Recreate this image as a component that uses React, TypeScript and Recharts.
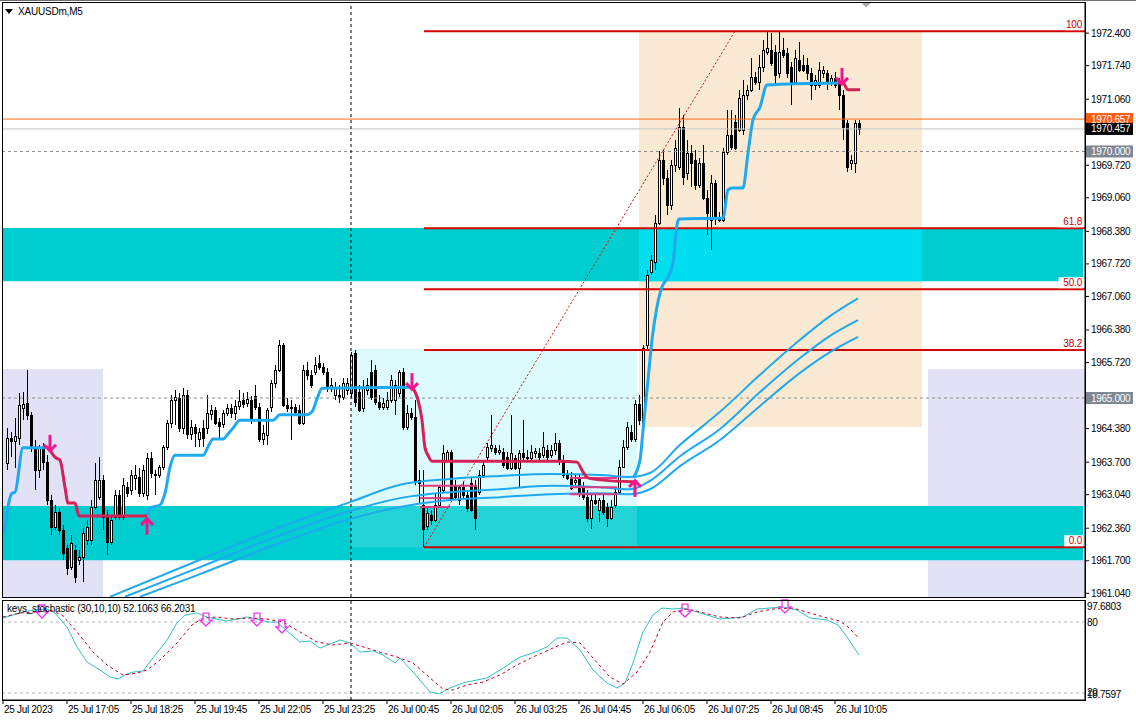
import React from 'react';
import {
  ComposedChart,
  Bar,
  Line,
  XAxis,
  YAxis,
  ReferenceArea,
  ReferenceLine,
  ReferenceDot,
} from 'recharts';

const FONT = "Tahoma, 'Liberation Sans', Arial, sans-serif";

const symbolTitle = 'XAUUSDm,M5';
const stochTitle = 'keys_stochastic (30,10,10) 52.1063 66.2031';

const timeLabels = [
  '25 Jul 2023', '25 Jul 17:05', '25 Jul 18:25', '25 Jul 19:45', '25 Jul 22:05',
  '25 Jul 23:25', '26 Jul 00:45', '26 Jul 02:05', '26 Jul 03:25', '26 Jul 04:45',
  '26 Jul 06:05', '26 Jul 07:25', '26 Jul 08:45', '26 Jul 10:05',
];
const timeLabelBars = [-1, 15, 31, 47, 63, 79, 95, 111, 127, 143, 159, 175, 191, 207];

const priceTicks = [
  1972.4, 1971.74, 1971.06, 1969.72, 1969.06, 1968.38, 1967.72, 1967.06, 1966.38,
  1965.72, 1964.38, 1963.7, 1963.04, 1962.36, 1961.7, 1961.04,
];
const stochTicks = [97.6803, 80, 20, 18.7597];
const stochLevels = [80, 20];

// M5 bars: [open, high, low, close]
const candles = [
  [1963.68, 1964.39, 1963.54, 1964.19], [1964.19, 1964.31, 1963.80, 1964.13], [1964.13, 1964.60, 1963.58, 1964.23],
  [1964.19, 1965.10, 1964.05, 1964.86], [1964.80, 1965.12, 1964.55, 1964.88], [1964.90, 1965.57, 1964.55, 1964.66],
  [1964.66, 1964.72, 1963.91, 1963.99], [1963.99, 1964.15, 1963.14, 1963.54], [1963.54, 1964.05, 1963.38, 1964.01],
  [1964.01, 1964.09, 1963.54, 1963.70], [1963.70, 1963.84, 1962.83, 1962.93], [1962.93, 1963.03, 1962.22, 1962.38],
  [1962.38, 1962.83, 1962.32, 1962.69], [1962.69, 1962.77, 1962.22, 1962.32], [1962.32, 1962.43, 1961.72, 1961.86],
  [1961.96, 1962.02, 1961.41, 1961.55], [1961.57, 1962.22, 1961.51, 1962.06], [1961.92, 1962.02, 1961.25, 1961.37],
  [1961.72, 1961.92, 1961.61, 1961.78], [1961.78, 1962.36, 1961.27, 1962.26], [1962.12, 1962.53, 1962.02, 1962.38],
  [1962.12, 1962.93, 1962.02, 1962.79], [1962.79, 1963.68, 1962.73, 1963.34], [1962.99, 1963.80, 1962.93, 1963.34],
  [1963.34, 1963.44, 1962.32, 1962.59], [1962.59, 1962.73, 1961.82, 1962.08], [1962.08, 1962.63, 1962.02, 1962.53],
  [1962.59, 1963.13, 1962.53, 1963.03], [1963.03, 1963.13, 1962.53, 1962.59], [1962.59, 1963.38, 1962.53, 1963.24],
  [1963.19, 1963.30, 1962.99, 1963.07], [1963.13, 1963.54, 1963.03, 1963.44], [1963.38, 1963.64, 1963.13, 1963.44],
  [1963.40, 1963.58, 1962.99, 1963.07], [1963.07, 1963.64, 1962.99, 1963.54], [1963.03, 1963.89, 1962.93, 1963.78],
  [1963.78, 1963.91, 1963.38, 1963.48], [1963.44, 1963.54, 1963.03, 1963.46], [1963.44, 1963.64, 1963.38, 1963.60],
  [1963.60, 1964.05, 1963.54, 1964.01], [1964.01, 1964.55, 1963.95, 1964.49], [1964.49, 1965.06, 1964.39, 1964.96],
  [1964.96, 1965.16, 1964.45, 1965.02], [1965.00, 1965.10, 1964.31, 1964.39], [1964.39, 1965.20, 1964.27, 1965.06],
  [1965.06, 1965.16, 1964.17, 1964.27], [1964.27, 1964.55, 1964.15, 1964.41], [1964.41, 1964.47, 1964.01, 1964.29],
  [1964.17, 1964.39, 1964.01, 1964.31], [1964.39, 1964.55, 1964.01, 1964.19], [1964.39, 1965.06, 1964.27, 1964.70],
  [1964.68, 1964.86, 1964.55, 1964.76], [1964.76, 1964.82, 1964.45, 1964.49], [1964.51, 1964.59, 1964.17, 1964.43],
  [1964.47, 1964.76, 1964.39, 1964.70], [1964.70, 1964.88, 1964.64, 1964.80], [1964.80, 1964.88, 1964.60, 1964.70],
  [1964.70, 1964.96, 1964.55, 1964.84], [1964.84, 1965.16, 1964.76, 1964.94], [1964.96, 1965.10, 1964.80, 1964.88],
  [1964.90, 1965.12, 1964.82, 1964.98], [1964.96, 1965.04, 1964.47, 1964.55], [1965.04, 1965.26, 1964.76, 1964.82],
  [1964.82, 1964.90, 1964.10, 1964.17], [1964.17, 1964.45, 1964.05, 1964.29], [1964.25, 1964.80, 1964.05, 1964.76],
  [1964.82, 1965.37, 1964.72, 1965.30], [1965.30, 1965.67, 1965.20, 1965.57], [1965.57, 1966.18, 1965.53, 1966.07],
  [1966.07, 1966.12, 1964.82, 1964.86], [1964.86, 1965.00, 1964.72, 1964.80], [1964.80, 1964.96, 1964.15, 1964.82],
  [1964.82, 1964.88, 1964.66, 1964.72], [1964.76, 1964.86, 1964.45, 1964.49], [1964.49, 1965.67, 1964.45, 1965.57],
  [1965.57, 1965.73, 1965.37, 1965.47], [1965.47, 1965.57, 1965.20, 1965.26], [1965.53, 1965.83, 1965.47, 1965.67],
  [1965.71, 1965.87, 1965.57, 1965.63], [1965.63, 1965.71, 1965.47, 1965.53], [1965.53, 1965.61, 1965.12, 1965.22],
  [1965.22, 1965.41, 1965.12, 1965.26], [1965.06, 1965.33, 1964.96, 1965.22], [1965.06, 1965.26, 1964.90, 1965.02],
  [1965.02, 1965.41, 1964.96, 1965.30], [1965.16, 1965.41, 1965.06, 1965.30], [1965.10, 1965.93, 1965.00, 1965.87],
  [1965.91, 1965.97, 1964.82, 1964.92], [1965.12, 1965.26, 1964.72, 1964.76], [1964.80, 1965.37, 1964.72, 1965.22],
  [1965.16, 1965.41, 1965.06, 1965.26], [1965.53, 1965.77, 1964.96, 1965.02], [1965.57, 1965.67, 1964.86, 1964.92],
  [1964.92, 1965.06, 1964.76, 1964.82], [1964.82, 1965.00, 1964.76, 1964.90], [1964.82, 1965.12, 1964.76, 1964.96],
  [1964.96, 1965.47, 1964.90, 1965.37], [1964.96, 1965.37, 1964.66, 1965.26], [1965.10, 1965.57, 1965.02, 1965.53],
  [1965.53, 1965.61, 1964.35, 1964.41], [1964.41, 1964.86, 1964.35, 1964.70], [1964.70, 1964.80, 1964.55, 1964.61],
  [1964.61, 1964.96, 1963.24, 1963.30], [1963.34, 1963.54, 1962.87, 1963.28], [1962.83, 1963.54, 1961.97, 1962.34],
  [1962.40, 1962.77, 1962.32, 1962.67], [1962.63, 1962.73, 1962.43, 1962.53], [1962.53, 1963.07, 1962.49, 1962.83],
  [1962.83, 1963.24, 1962.77, 1963.19], [1963.13, 1964.05, 1963.09, 1963.89], [1963.74, 1963.95, 1963.70, 1963.91],
  [1963.91, 1963.95, 1962.93, 1962.97], [1963.24, 1963.34, 1962.93, 1962.99], [1962.93, 1963.24, 1962.83, 1963.19],
  [1963.19, 1963.30, 1962.97, 1963.03], [1963.03, 1963.13, 1962.69, 1962.77], [1963.28, 1963.38, 1962.69, 1962.73],
  [1963.24, 1963.34, 1962.32, 1962.57], [1963.09, 1963.54, 1963.03, 1963.44], [1963.44, 1963.70, 1963.38, 1963.64],
  [1963.80, 1964.09, 1963.74, 1964.01], [1963.99, 1964.66, 1963.91, 1964.05], [1963.99, 1964.05, 1963.84, 1963.91],
  [1963.91, 1964.05, 1963.84, 1963.95], [1963.91, 1963.99, 1963.58, 1963.64], [1963.80, 1963.91, 1963.54, 1963.58],
  [1963.58, 1964.66, 1963.54, 1963.89], [1963.78, 1963.84, 1963.54, 1963.58], [1963.58, 1963.95, 1963.19, 1963.89],
  [1963.89, 1964.55, 1963.74, 1963.80], [1963.78, 1963.95, 1963.70, 1963.80], [1963.78, 1964.05, 1963.74, 1963.91],
  [1963.89, 1963.99, 1963.78, 1963.93], [1963.89, 1963.99, 1963.74, 1963.80], [1963.84, 1964.31, 1963.78, 1964.01],
  [1963.95, 1964.05, 1963.74, 1963.80], [1963.84, 1964.05, 1963.78, 1963.95], [1963.95, 1964.29, 1963.84, 1964.09],
  [1964.09, 1964.15, 1963.64, 1963.74], [1963.74, 1963.84, 1963.38, 1963.44], [1963.44, 1963.54, 1963.34, 1963.38],
  [1963.40, 1963.50, 1963.13, 1963.17], [1963.30, 1963.44, 1963.24, 1963.34], [1963.38, 1963.44, 1962.99, 1963.07],
  [1963.17, 1963.30, 1962.93, 1962.99], [1962.99, 1963.13, 1962.49, 1962.57], [1962.57, 1963.03, 1962.34, 1962.93],
  [1962.93, 1963.03, 1962.83, 1962.87], [1962.73, 1962.97, 1962.49, 1962.93], [1962.93, 1963.03, 1962.63, 1962.69],
  [1962.79, 1962.87, 1962.38, 1962.57], [1962.57, 1962.93, 1962.53, 1962.79], [1962.83, 1963.17, 1962.77, 1963.09],
  [1963.09, 1963.74, 1963.03, 1963.60], [1963.60, 1964.15, 1963.58, 1964.01], [1964.01, 1964.51, 1963.95, 1964.41],
  [1964.31, 1964.45, 1964.11, 1964.17], [1964.17, 1964.96, 1964.11, 1964.88], [1964.88, 1965.06, 1964.45, 1964.55],
  [1964.45, 1966.07, 1964.31, 1966.02], [1966.07, 1967.60, 1965.97, 1967.49], [1967.56, 1967.90, 1967.49, 1967.80],
  [1967.76, 1968.71, 1967.60, 1968.55], [1968.55, 1970.00, 1968.51, 1969.83], [1969.83, 1970.03, 1969.32, 1969.46],
  [1969.46, 1969.62, 1968.71, 1968.91], [1968.91, 1969.83, 1968.81, 1969.73], [1969.73, 1970.23, 1969.58, 1970.07],
  [1969.69, 1970.88, 1969.62, 1970.50], [1970.50, 1970.74, 1969.32, 1969.48], [1969.56, 1970.23, 1969.42, 1969.97],
  [1969.97, 1970.13, 1969.28, 1969.77], [1969.83, 1970.03, 1969.22, 1969.32], [1969.32, 1969.87, 1969.26, 1969.77],
  [1969.77, 1970.13, 1969.02, 1969.06], [1969.06, 1969.22, 1968.30, 1968.75], [1968.61, 1969.52, 1968.00, 1969.36],
  [1969.36, 1969.42, 1968.51, 1968.65], [1968.67, 1968.77, 1968.57, 1968.61], [1968.61, 1970.07, 1968.57, 1969.99],
  [1969.99, 1970.84, 1969.93, 1970.33], [1970.33, 1970.84, 1970.03, 1970.09], [1970.60, 1970.74, 1970.03, 1970.07],
  [1970.44, 1971.25, 1970.40, 1971.08], [1970.44, 1971.45, 1970.33, 1971.14], [1971.14, 1971.34, 1971.04, 1971.25],
  [1971.25, 1971.90, 1971.21, 1971.51], [1971.51, 1971.61, 1971.35, 1971.41], [1971.41, 1971.96, 1971.25, 1971.71],
  [1971.71, 1972.26, 1971.61, 1972.06], [1972.02, 1972.42, 1971.96, 1972.10], [1972.06, 1972.40, 1971.73, 1971.79],
  [1972.02, 1972.16, 1971.35, 1971.55], [1971.59, 1972.44, 1971.49, 1972.02], [1972.06, 1972.30, 1971.90, 1971.96],
  [1972.00, 1972.10, 1971.49, 1971.59], [1971.71, 1971.82, 1970.94, 1971.41], [1971.41, 1972.06, 1971.35, 1971.90],
  [1971.86, 1972.22, 1971.61, 1971.65], [1971.75, 1971.96, 1971.61, 1971.65], [1971.75, 1971.90, 1971.45, 1971.59],
  [1971.59, 1971.69, 1971.04, 1971.35], [1971.35, 1971.55, 1971.25, 1971.45], [1971.35, 1971.82, 1971.29, 1971.65],
  [1971.59, 1971.73, 1971.49, 1971.65], [1971.59, 1971.65, 1971.25, 1971.39], [1971.39, 1971.55, 1971.33, 1971.49],
  [1971.49, 1971.61, 1971.29, 1971.35], [1971.41, 1971.49, 1970.84, 1971.15], [1971.15, 1971.25, 1970.23, 1970.50],
  [1970.58, 1970.64, 1969.58, 1969.69], [1969.77, 1969.93, 1969.62, 1969.83], [1969.77, 1970.64, 1969.56, 1970.58],
  [1970.58, 1970.64, 1970.33, 1970.46],
];

// trailing stop, [bar, price]
const trailUp = [
  [[-0.75, 1962.26], [1.25, 1963.07], [2, 1963.09], [4, 1963.99], [9, 1963.99], [10.25, 1964.01]],
  [[35, 1962.61], [35.75, 1962.77], [38.25, 1962.83], [39.5, 1963.07], [40.75, 1963.6], [42, 1963.84], [49, 1963.84],
    [50.25, 1964.01], [51.5, 1964.17], [54, 1964.17], [55.25, 1964.27], [56.5, 1964.39], [58.25, 1964.55], [66.5, 1964.55],
    [68.25, 1964.66], [75, 1964.66], [76.25, 1964.72], [77.5, 1964.98], [78.75, 1965.2], [101.25, 1965.22]],
  [[156.5, 1963.38], [158.25, 1963.74], [159, 1964.35], [160.25, 1965.37], [161.25, 1966.18], [162.5, 1966.85],
    [163.75, 1967.25], [165.25, 1967.45], [166.5, 1967.74], [167.5, 1968.51], [168, 1968.63], [179, 1968.65],
    [180.25, 1969.22], [181.25, 1969.26], [184, 1969.26], [185.25, 1969.97], [186.5, 1970.64], [188.25, 1970.9],
    [190, 1971.35], [207.75, 1971.39]],
];
const trailDown = [
  [[10.25, 1964.01], [12, 1963.8], [13.25, 1963.74], [14.5, 1963.19], [15.25, 1962.87], [17, 1962.87], [18, 1962.61], [35, 1962.61]],
  [[101.25, 1965.22], [102.75, 1964.96], [103.75, 1964.55], [104.5, 1963.99], [105.25, 1963.84], [106.25, 1963.72],
    [138.25, 1963.72], [142.5, 1963.7], [144, 1963.5], [145.25, 1963.38], [148.25, 1963.34], [156.5, 1963.3]],
  [[207.75, 1971.39], [209, 1971.39], [210.25, 1971.25], [213.25, 1971.25]],
];

// moving average band
const bandUpper = [[25.75, 1960.97], [48.25, 1961.72], [68.25, 1962.38], [85.75, 1962.89], [98.25, 1963.24],
  [110.75, 1963.36], [123.25, 1963.42], [135.75, 1963.46], [148.25, 1963.44], [155.75, 1963.4], [160.75, 1963.48],
  [168.25, 1964.05], [178.25, 1964.72], [188.25, 1965.47], [198.25, 1966.18], [205.75, 1966.66], [212.75, 1967.02]];
const bandMiddle = [[29.5, 1960.97], [48.25, 1961.57], [68.25, 1962.22], [85.75, 1962.71], [98.25, 1962.97],
  [110.75, 1963.09], [123.25, 1963.15], [135.75, 1963.22], [148.25, 1963.19], [155.75, 1963.15], [160.75, 1963.32],
  [168.25, 1963.82], [178.25, 1964.37], [188.25, 1965.12], [198.25, 1965.81], [205.75, 1966.26], [212.75, 1966.58]];
const bandLower = [[33.25, 1960.97], [48.25, 1961.43], [68.25, 1962.06], [85.75, 1962.55], [98.25, 1962.79],
  [110.75, 1962.93], [123.25, 1962.99], [135.75, 1963.05], [148.25, 1963.07], [155.75, 1963.05], [160.75, 1963.15],
  [168.25, 1963.62], [178.25, 1964.15], [188.25, 1964.84], [198.25, 1965.51], [205.75, 1965.93], [212.75, 1966.24]];

// short pivot levels: [fromBar, toBar, price]
const pivotLevels = [
  [103.25, 117.5, 1963.22], [103.25, 110.75, 1962.97], [103.25, 110.75, 1962.79],
  [140.75, 152.5, 1963.38], [140.75, 152.5, 1963.19], [140.75, 152.5, 1963.05],
];

const sellSignals = [[10.75, 1963.91], [101.25, 1965.16], [208.75, 1971.35]];
const buySignals = [[35, 1962.57], [157, 1963.34]];

const fibLevels = ['0.0', '38.2', '50.0', '61.8', '100'];
const fibPrices = [1961.974, 1965.972, 1967.207, 1968.442, 1972.44];
const fibStartBar = 104.25;
const fibTrend = [[104.25, 1961.974], [182, 1972.44]];

// zones: bars and prices
const sessionLineBar = 86;
const lavenderZones = [[-1, 24], [230.25, 269.5]];
const lavenderTop = 1965.59;
const sessionBox = [86, 157.5, 1961.97, 1966.0];
const fibBox = [158, 228.75, 1964.41, 1972.44];
const supplyZone = [1967.37, 1968.45];
const demandZone = [1961.71, 1962.81];

const askPrice = 1970.657;
const bidPrice = 1970.457;
const roundLevels = [1970, 1965];

const stochMain = [[-1, 83.4], [3.25, 87.6], [6.5, 90.1], [10, 91.0], [12, 87.6], [15, 75.8], [17.5, 58.9], [20, 46.2],
  [23.25, 39.4], [25.75, 33.5], [27.75, 31.8], [30, 36.1], [31.5, 37.7], [34, 38.6], [36.5, 49.6], [40, 64.8],
  [42.5, 79.2], [44.5, 85.9], [47.5, 87.6], [50, 84.2], [52.5, 82.5], [55, 80.8], [57.5, 82.5], [60, 84.2],
  [62.5, 82.5], [65, 80.0], [67.5, 80.0], [70, 72.4], [73.25, 63.1], [75.75, 63.9], [78.25, 58.0], [80.75, 61.4],
  [83.25, 64.8], [85.75, 62.3], [88.25, 54.6], [91.5, 55.5], [94, 52.1], [97, 45.4], [98.25, 49.6], [101.5, 37.7],
  [105.75, 20.9], [108, 19.2], [110.75, 24.2], [114, 28.5], [117.5, 31.0], [120, 32.7], [123.25, 39.4], [128.25, 50.4],
  [131.5, 53.8], [135, 58.9], [137.5, 66.5], [140, 66.5], [143.25, 56.3], [146.5, 39.4], [150, 28.5], [152.5, 24.2],
  [154.5, 28.5], [156.5, 45.4], [159, 71.6], [161.5, 85.9], [163.75, 91.8], [166.5, 91.0], [169, 91.8], [172.5, 88.5],
  [175.75, 85.1], [178.25, 82.5], [181.5, 83.4], [184, 84.2], [187.5, 91.0], [190.75, 91.8], [194, 92.7], [197.5, 90.1],
  [200.75, 83.4], [205, 81.7], [207.75, 77.5], [210, 67.3], [213, 52.1]];
const stochSignal = [[-1, 84.2], [3.25, 87.6], [7.5, 88.5], [10.75, 90.1], [13.75, 85.9], [17.5, 71.6], [21.5, 54.6],
  [25, 43.7], [29, 35.2], [32.5, 36.9], [35, 39.4], [38.25, 47.9], [42.5, 62.3], [46.25, 77.5], [49, 83.4], [52.5, 84.2],
  [56.5, 82.5], [60.75, 83.4], [65, 82.5], [69, 80.0], [73.25, 71.6], [77.5, 63.1], [81.5, 60.6], [85.75, 62.3],
  [90, 58.0], [94, 53.8], [97.5, 50.4], [101.5, 45.4], [105.75, 32.7], [109, 23.4], [111.5, 22.5], [115, 26.8],
  [119, 29.3], [123.25, 35.2], [127.5, 43.7], [131.5, 50.4], [136.5, 58.0], [140, 63.1], [143.25, 62.3], [146.5, 49.6],
  [150.75, 33.5], [154, 27.6], [157.5, 37.7], [160.75, 54.6], [164, 80.0], [166.5, 88.5], [170, 91.0], [173.25, 88.5],
  [178.25, 84.2], [183.25, 83.4], [187.5, 88.5], [191.5, 91.0], [196.5, 91.8], [200.75, 87.6], [205, 83.4],
  [208.25, 80.8], [210.25, 75.8], [213, 66.2]];
const stochSellMarks = [[8.75, 83.4], [49.75, 76.6], [62.5, 76.6], [68.75, 70.7], [169.5, 84.2], [194.5, 87.6]];

const chartData = candles.map(([o, h, l, c], i) => ({ i, o, h, l, c, range: [l, h] }));
const toPts = (arr: number[][]) => arr.map(([i, p]) => ({ i, p }));

const X_DOMAIN: [number, number] = [-1, 269.5];
const BLUE = '#1fa9f0';
const ROSE = '#d42157';
const FIB = '#d60000';

function CandleShape(props: any) {
  const { x, y, width, height, payload } = props;
  if (x == null || !payload) return null;
  const { o, h, l, c } = payload;
  const top = Math.min(y, y + height);
  const hgt = Math.abs(height);
  const span = h - l;
  const yOf = (v: number) => (span > 0 ? top + ((h - v) / span) * hgt : top);
  const cx = Math.round(x + width / 2) + 0.5;
  const bTop = Math.round(yOf(Math.max(o, c)));
  const bBot = Math.round(yOf(Math.min(o, c)));
  return (
    <g shapeRendering="crispEdges">
      <line x1={cx} x2={cx} y1={yOf(h)} y2={yOf(l)} stroke="#000" />
      {bBot - bTop < 1 ? (
        <line x1={cx - 1.5} x2={cx + 1.5} y1={bTop + 0.5} y2={bTop + 0.5} stroke="#000" />
      ) : (
        <rect x={cx - 1} y={bTop + 0.5} width={2} height={bBot - bTop} fill={c >= o ? '#fff' : '#000'} stroke="#000" />
      )}
    </g>
  );
}

const PriceTick = ({ x, y, payload }: any) => (
  <text x={x} y={y} dy={3.5} fontSize={10} fontFamily={FONT} fill="#000" letterSpacing={-0.3}>
    {Number(payload.value).toFixed(3)}
  </text>
);

const StochTick = ({ x, y, payload }: any) => {
  const v = payload.value;
  const label = v === 80 || v === 20 ? String(v) : v.toFixed(4);
  return (
    <text x={x} y={y} dy={v > 90 ? 9 : 3.5} fontSize={10} fontFamily={FONT} fill="#000" letterSpacing={-0.3}>
      {label}
    </text>
  );
};

const TimeTick = ({ x, y, payload }: any) => {
  const k = timeLabelBars.indexOf(payload.value);
  return (
    <text x={x + 1} y={y} dy="0.71em" fontSize={10} fontFamily={FONT} fill="#000" letterSpacing={-0.3}>
      {timeLabels[k]}
    </text>
  );
};

function SignalArrow({ cx, cy, down }: { cx: number; cy: number; down: boolean }) {
  const s = down ? -1 : 1;
  return (
    <g stroke="#f0168c" strokeWidth={3} fill="none" strokeLinecap="butt">
      <line x1={cx} y1={cy} x2={cx} y2={cy + s * 17} />
      <polyline points={`${cx - 6},${cy + s * 7} ${cx},${cy + 1 * s} ${cx + 6},${cy + s * 7}`} />
    </g>
  );
}

function HollowArrow({ cx, cy }: { cx: number; cy: number }) {
  const pts = [
    [cx - 3, cy - 13], [cx + 3, cy - 13], [cx + 3, cy - 6], [cx + 6, cy - 6],
    [cx, cy], [cx - 6, cy - 6], [cx - 3, cy - 6],
  ].map((p) => p.join(',')).join(' ');
  return <polygon points={pts} fill="none" stroke="#ee33ee" strokeWidth={1.3} />;
}

function AxisBadge({ cx, cy, text, bg }: any) {
  return (
    <g>
      <rect x={cx + 1} y={cy - 6} width={47} height={12} fill={bg} />
      <text x={cx + 6} y={cy} dy={3.5} fontSize={10} fontFamily={FONT} fill="#fff" letterSpacing={-0.3}>
        {text}
      </text>
    </g>
  );
}

function FibLabel({ cx, cy, text }: any) {
  const w = text.length * 5.6 + 2;
  return (
    <g>
      <rect x={cx - w} y={cy - 12} width={w} height={11} fill="#fff" />
      <text x={cx - 1} y={cy - 3} textAnchor="end" fontSize={10} fontFamily={FONT} fill={FIB} letterSpacing={-0.2}>
        {text}
      </text>
    </g>
  );
}

export default function App() {
  const area = (key: string, x1: number, x2: number, y1: number, y2: number, fill: string) => (
    <ReferenceArea key={key} x1={x1} x2={x2} y1={y1} y2={y2} fill={fill} fillOpacity={1} stroke="none" ifOverflow="hidden" />
  );

  return (
    <div style={{ position: 'absolute', left: 0, top: 0, width: 1136, height: 720, background: '#fff', overflow: 'hidden' }}>
      <div style={{ position: 'absolute', left: 0, top: 0, width: 1136, height: 1, background: '#6d6d6d' }} />
      <div style={{ position: 'absolute', left: 0, top: 0 }}>
        <ComposedChart width={1136} height={600} data={chartData} margin={{ top: 2, right: 0, bottom: 3, left: 3 }}>
          <XAxis type="number" dataKey="i" domain={X_DOMAIN} allowDataOverflow hide />
          <YAxis
            orientation="right"
            width={51}
            domain={[1960.965, 1973.031]}
            allowDataOverflow
            ticks={priceTicks}
            interval={0}
            tick={<PriceTick />}
            tickSize={4}
            tickMargin={2}
            tickLine={{ stroke: '#000' }}
            axisLine={{ stroke: '#000' }}
          />

          {lavenderZones.map(([a, b], k) => area('lav' + k, a, b, 1960.5, lavenderTop, '#e2e2f7'))}
          {area('session', sessionBox[0], sessionBox[1], sessionBox[2], sessionBox[3], '#ddfafc')}
          {area('fibbox', fibBox[0], fibBox[1], fibBox[2], fibBox[3], '#fbead3')}
          {area('supply', -1, 269, supplyZone[0], supplyZone[1], '#00cdd0')}
          {area('supplyX', fibBox[0], fibBox[1], supplyZone[0], supplyZone[1], '#00ddef')}
          {area('demand', -1, 269, demandZone[0], demandZone[1], '#00cdd0')}
          {area('demandX', sessionBox[0], sessionBox[1], sessionBox[2], demandZone[1], '#24d3d6')}

          {roundLevels.map((p) => (
            <ReferenceLine key={'r' + p} y={p} stroke="#8c8c8c" strokeDasharray="3 3" />
          ))}
          <ReferenceLine y={askPrice} stroke="#ff6a13" />
          <ReferenceLine y={bidPrice} stroke="#c4c4c4" />
          <ReferenceLine x={sessionLineBar} stroke="#000" strokeDasharray="3 3" />

          {fibPrices.map((p, k) => (
            <ReferenceLine
              key={'f' + k}
              segment={[{ x: fibStartBar, y: p }, { x: 269.5, y: p }]}
              stroke={FIB}
              strokeWidth={2}
              ifOverflow="hidden"
            />
          ))}
          <ReferenceLine
            segment={[{ x: fibTrend[0][0], y: fibTrend[0][1] }, { x: fibTrend[1][0], y: fibTrend[1][1] }]}
            stroke="#cc1010"
            strokeDasharray="2 2"
            ifOverflow="hidden"
          />

          <Bar dataKey="range" barSize={3} shape={<CandleShape />} isAnimationActive={false} />

          {[bandUpper, bandMiddle, bandLower].map((b, k) => (
            <Line key={'b' + k} data={toPts(b)} dataKey="p" type="monotone" stroke={BLUE} strokeWidth={2} dot={false} isAnimationActive={false} />
          ))}
          {pivotLevels.map(([a, b, p], k) => (
            <ReferenceLine key={'pv' + k} segment={[{ x: a, y: p }, { x: b, y: p }]} stroke="#dd3c82" strokeWidth={2} />
          ))}
          {trailUp.map((s, k) => (
            <Line key={'u' + k} data={toPts(s)} dataKey="p" type="monotone" stroke={BLUE} strokeWidth={3} dot={false} isAnimationActive={false} />
          ))}
          {trailDown.map((s, k) => (
            <Line key={'d' + k} data={toPts(s)} dataKey="p" type="monotone" stroke={ROSE} strokeWidth={3} dot={false} isAnimationActive={false} />
          ))}

          {sellSignals.map(([i, p], k) => (
            <ReferenceDot key={'ss' + k} x={i} y={p} r={1} shape={(pr: any) => <SignalArrow cx={pr.cx} cy={pr.cy} down />} />
          ))}
          {buySignals.map(([i, p], k) => (
            <ReferenceDot key={'bs' + k} x={i} y={p} r={1} shape={(pr: any) => <SignalArrow cx={pr.cx} cy={pr.cy} down={false} />} />
          ))}
          {fibPrices.map((p, k) => (
            <ReferenceDot key={'fl' + k} x={269} y={p} r={1} shape={(pr: any) => <FibLabel cx={pr.cx} cy={pr.cy} text={fibLevels[k]} />} />
          ))}
          <ReferenceDot x={214.75} y={1972.98} r={1} shape={(pr: any) => (
            <polygon points={`${pr.cx - 5},${pr.cy - 2} ${pr.cx + 5},${pr.cy - 2} ${pr.cx},${pr.cy + 3}`} fill="#a9a9a9" />
          )} />
          <ReferenceDot x={269.5} y={askPrice} r={1} shape={(pr: any) => <AxisBadge cx={pr.cx} cy={pr.cy} text="1970.657" bg="#ff5a14" />} />
          <ReferenceDot x={269.5} y={bidPrice} r={1} shape={(pr: any) => <AxisBadge cx={pr.cx} cy={pr.cy} text="1970.457" bg="#000" />} />
          {roundLevels.map((p) => (
            <ReferenceDot key={'rb' + p} x={269.5} y={p} r={1} shape={(pr: any) => <AxisBadge cx={pr.cx} cy={pr.cy} text={p.toFixed(3)} bg="#7d8893" />} />
          ))}
        </ComposedChart>
      </div>

      <div style={{ position: 'absolute', left: 0, top: 597 }}>
        <ComposedChart width={1136} height={123} data={toPts(stochMain)} margin={{ top: 4, right: 0, bottom: 0, left: 3 }}>
          <XAxis
            type="number"
            dataKey="i"
            domain={X_DOMAIN}
            allowDataOverflow
            ticks={timeLabelBars}
            interval={0}
            tick={<TimeTick />}
            tickSize={4}
            tickMargin={2}
            tickLine={{ stroke: '#000' }}
            axisLine={{ stroke: '#000' }}
            height={20}
          />
          <YAxis
            orientation="right"
            width={51}
            domain={[14.08, 97.75]}
            allowDataOverflow
            ticks={stochTicks}
            interval={0}
            tick={<StochTick />}
            tickSize={0}
            tickMargin={2}
            tickLine={false}
            axisLine={{ stroke: '#000' }}
          />
          {stochLevels.map((v) => (
            <ReferenceLine key={'sl' + v} y={v} stroke="#b4b4b4" strokeDasharray="3 3" />
          ))}
          <ReferenceLine x={sessionLineBar} stroke="#000" strokeDasharray="3 3" />
          <Line data={toPts(stochMain)} dataKey="p" type="linear" stroke="#2dc0c4" strokeWidth={1} dot={false} isAnimationActive={false} />
          <Line data={toPts(stochSignal)} dataKey="p" type="linear" stroke="#c8001e" strokeWidth={1} strokeDasharray="3 3" dot={false} isAnimationActive={false} />
          {stochSellMarks.map(([i, v], k) => (
            <ReferenceDot key={'sm' + k} x={i} y={v} r={1} shape={(pr: any) => <HollowArrow cx={pr.cx} cy={pr.cy} />} />
          ))}
        </ComposedChart>
      </div>

      {/* panel frames */}
      <div style={{ position: 'absolute', left: 2, top: 2, width: 1084, height: 596, border: '1px solid #000', boxSizing: 'border-box', pointerEvents: 'none' }} />
      <div style={{ position: 'absolute', left: 2, top: 600, width: 1084, height: 101, border: '1px solid #000', boxSizing: 'border-box', pointerEvents: 'none' }} />

      <div style={{ position: 'absolute', left: 5, top: 6, fontFamily: FONT, fontSize: 10, color: '#000', display: 'flex', alignItems: 'center', letterSpacing: -0.2 }}>
        <svg width={8} height={6} style={{ marginRight: 5 }}>
          <polygon points="0,0 8,0 4,5" fill="#000" />
        </svg>
        {symbolTitle}
      </div>
      <div style={{ position: 'absolute', left: 7, top: 603, fontFamily: FONT, fontSize: 10, color: '#000', letterSpacing: -0.2 }}>
        {stochTitle}
      </div>
    </div>
  );
}
